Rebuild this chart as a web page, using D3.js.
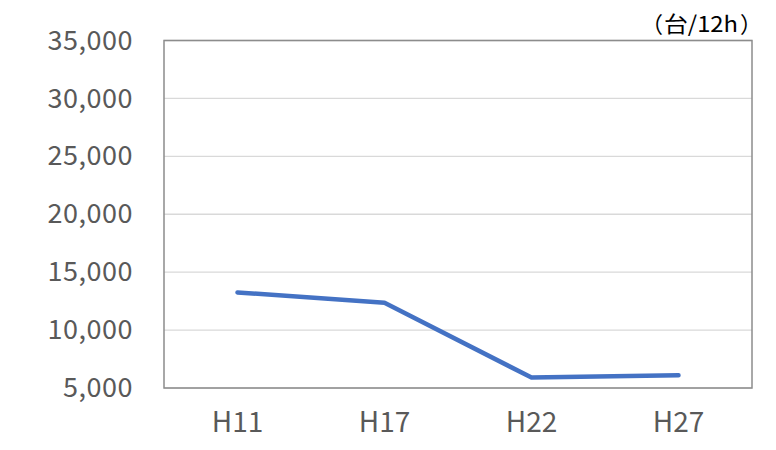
<!DOCTYPE html>
<html>
<head>
<meta charset="utf-8">
<script src="https://cdn.jsdelivr.net/npm/d3@7"></script>
<style>
  html, body { margin: 0; padding: 0; background: #fff; }
  svg { display: block; font-family: "Noto Sans CJK JP", "Noto Sans", sans-serif; }
</style>
</head>
<body>
<div id="chart"></div>
<script>
// Traffic volume per survey year (vehicles / 12h)
const years = ["H11", "H17", "H22", "H27"];
const volumes = [13250, 12350, 5900, 6100];
const yTicks = [5000, 10000, 15000, 20000, 25000, 30000, 35000];
const unitParts = ["（", "台/12h", "）"];

const width = 776, height = 450;
const margin = { top: 40.5, right: 24, bottom: 62, left: 164 };

const svg = d3.select("#chart").append("svg")
  .attr("width", width).attr("height", height);

const x = d3.scaleBand()
  .domain(years)
  .range([margin.left, width - margin.right]);

const y = d3.scaleLinear()
  .domain([5000, 35000])
  .range([height - margin.bottom, margin.top]);

// horizontal gridlines
svg.append("g")
  .selectAll("line")
  .data(yTicks)
  .join("line")
  .attr("x1", margin.left)
  .attr("x2", width - margin.right)
  .attr("y1", d => y(d))
  .attr("y2", d => y(d))
  .attr("stroke", "#d9d9d9")
  .attr("stroke-width", 1.3);

// plot area frame
svg.append("rect")
  .attr("x", margin.left)
  .attr("y", margin.top)
  .attr("width", width - margin.left - margin.right)
  .attr("height", height - margin.top - margin.bottom)
  .attr("fill", "none")
  .attr("stroke", "#8c8c8c")
  .attr("stroke-width", 1.5);

// y axis labels
const yAxis = d3.axisLeft(y)
  .tickValues(yTicks)
  .tickFormat(d3.format(","))
  .tickSize(0)
  .tickPadding(31);
svg.append("g")
  .attr("transform", `translate(${margin.left},0)`)
  .call(yAxis)
  .call(g => g.select(".domain").remove())
  .call(g => g.selectAll("text")
    .attr("fill", "#595959")
    .style("font-size", "27px")
    .style("letter-spacing", "0.5px")
    .style("font-family", "\"Noto Sans CJK JP\", sans-serif"));

// x axis labels
const xAxis = d3.axisBottom(x).tickSize(0).tickPadding(24);
svg.append("g")
  .attr("transform", `translate(0,${height - margin.bottom})`)
  .call(xAxis)
  .call(g => g.select(".domain").remove())
  .call(g => g.selectAll("text")
    .attr("fill", "#595959")
    .style("font-size", "28px")
    .style("font-family", "\"Noto Sans CJK JP\", sans-serif"));

// traffic line
const line = d3.line()
  .x((d, i) => x(years[i]) + x.bandwidth() / 2)
  .y(d => y(d));

svg.append("path")
  .datum(volumes)
  .attr("d", line)
  .attr("fill", "none")
  .attr("stroke", "#4472c4")
  .attr("stroke-width", 4.5)
  .attr("stroke-linecap", "round")
  .attr("stroke-linejoin", "round");

// unit label: brackets placed separately so they keep a full-width look
const unitY = 32;
const unitG = svg.append("g")
  .attr("fill", "#000")
  .style("font-size", "22px");
unitG.append("text")
  .attr("x", 641).attr("y", unitY)
  .text(unitParts[0]);
unitG.append("text")
  .attr("x", 701).attr("y", unitY)
  .attr("text-anchor", "middle")
  .attr("textLength", 74)
  .attr("lengthAdjust", "spacingAndGlyphs")
  .text(unitParts[1]);
unitG.append("text")
  .attr("x", 740).attr("y", unitY)
  .text(unitParts[2]);
</script>
</body>
</html>
